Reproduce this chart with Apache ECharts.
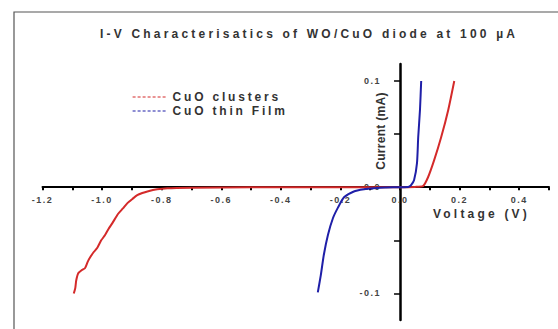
<!DOCTYPE html>
<html>
<head>
<meta charset="utf-8">
<script src="https://cdn.jsdelivr.net/npm/echarts@6/dist/echarts.min.js"></script>
<style>
  html, body { margin: 0; padding: 0; background: #fff; }
  #chart { width: 558px; height: 329px; }
</style>
</head>
<body>
<div id="chart"></div>
<script>
// I-V 曲线数据 (V, mA)
var clusterV = [-1.095, -1.090, -1.087, -1.080, -1.068, -1.057, -1.048, -1.040, -1.028, -1.016, -1.003, -0.990, -0.978, -0.966, -0.946, -0.930, -0.915, -0.898, -0.882, -0.865, -0.848, -0.815, -0.781, -0.70, -0.50, -0.30, -0.10, 0.0, 0.05, 0.077, 0.094, 0.114, 0.138, 0.162, 0.182];
var clusterI = [-0.100, -0.095, -0.088, -0.081, -0.078, -0.076, -0.070, -0.066, -0.061, -0.057, -0.050, -0.045, -0.039, -0.034, -0.025, -0.020, -0.015, -0.011, -0.0075, -0.0055, -0.004, -0.002, -0.001, -0.0005, 0, 0, 0, 0, 0.0003, 0.001, 0.0094, 0.025, 0.047, 0.073, 0.100];
var filmV = [-0.276, -0.266, -0.256, -0.242, -0.225, -0.208, -0.188, -0.155, -0.121, -0.088, -0.05, 0, 0.03, 0.037, 0.047, 0.057, 0.061, 0.067, 0.071];
var filmI = [-0.099, -0.083, -0.064, -0.045, -0.029, -0.019, -0.0095, -0.004, -0.002, -0.001, -0.0003, 0, 0.0005, 0.002, 0.0066, 0.023, 0.047, 0.073, 0.100];
var xTickValues = [-1.2, -1.1, -1.0, -0.9, -0.8, -0.7, -0.6, -0.5, -0.4, -0.3, -0.2, -0.1, 0, 0.1, 0.2, 0.3, 0.4, 0.5];
var xLabelValues = [-1.2, -1.0, -0.8, -0.6, -0.4, -0.2, 0, 0.2, 0.4];
var yTickValues = [-0.1, -0.05, 0, 0.05, 0.1];
var yLabelValues = [-0.1, 0, 0.1];

function pairs(xs, ys) {
    var out = [];
    for (var i = 0; i < xs.length; i++) {
        out.push([xs[i], ys[i]]);
    }
    return out;
}

var font = 'Liberation Sans, Arial, sans-serif';
var gridLeft = 42.5, gridRight = 9, gridTop = 64, gridBottom = 9;
var myChart = echarts.init(document.getElementById('chart'), null, { renderer: 'svg' });

var option = {
    animation: false,
    backgroundColor: '#fff',
    title: {
        text: 'I-V Characterisatics of WO/CuO diode at 100 µA',
        left: 100,
        top: 28,
        padding: 0,
        textStyle: { fontFamily: font, fontSize: 12, fontWeight: 'bold', color: '#333' }
    },
    legend: {
        orient: 'vertical',
        left: 132,
        top: 91,
        padding: 0,
        itemGap: 2,
        itemWidth: 35,
        itemHeight: 11,
        lineStyle: { type: [3, 2], width: 1.2 },
        itemStyle: { opacity: 0 },
        textStyle: { fontFamily: font, fontSize: 12, fontWeight: 'bold', color: '#333' },
        data: ['CuO clusters', 'CuO thin Film']
    },
    grid: { left: gridLeft, right: gridRight, top: gridTop, bottom: gridBottom, outerBoundsMode: 'none' },
    xAxis: {
        type: 'value',
        min: -1.2,
        max: 0.5,
        position: 'bottom',
        name: 'Voltage (V)',
        nameLocation: 'end',
        nameGap: -116,
        nameTextStyle: {
            fontFamily: font, fontSize: 12, fontWeight: 'bold', color: '#333',
            verticalAlign: 'top', padding: [21, 0, 0, 0]
        },
        axisLine: { onZero: false, lineStyle: { color: '#000', width: 2 } },
        axisTick: { customValues: xTickValues, length: 3, lineStyle: { color: '#000', width: 2 } },
        axisLabel: {
            customValues: xLabelValues,
            margin: 8,
            fontFamily: font, fontSize: 9, fontWeight: 'bold', color: '#444',
            formatter: function (v) { return v.toFixed(1); }
        },
        splitLine: { show: false }
    },
    yAxis: {
        type: 'value',
        min: -0.125,
        max: 0.116,
        position: 'left',
        axisLine: { onZero: false, lineStyle: { color: '#000', width: 2.5 } },
        axisTick: { customValues: yTickValues, length: 6, lineStyle: { color: '#000', width: 1.5 } },
        axisLabel: {
            customValues: yLabelValues,
            margin: 19,
            fontFamily: font, fontSize: 9, fontWeight: 'bold', color: '#444',
            formatter: function (v) { return v.toFixed(1); }
        },
        splitLine: { show: false }
    },
    graphic: [
        {
            type: 'rect',
            shape: { x: 14, y: 12, width: 600, height: 400 },
            style: { fill: 'none', stroke: '#555', lineWidth: 1.2 },
            silent: true,
            z: -1
        },
        {
            type: 'text',
            x: 381,
            y: 131,
            rotation: Math.PI / 2,
            style: {
                text: 'Current (mA)',
                fontFamily: font, fontSize: 12, fontWeight: 'bold', fill: '#333',
                align: 'center', verticalAlign: 'middle'
            }
        }
    ],
    series: [
        {
            name: 'CuO clusters',
            type: 'line',
            symbol: 'none',
            smooth: 0.2,
            lineStyle: { color: '#d42a2a', width: 2 },
            itemStyle: { color: '#d42a2a' },
            data: pairs(clusterV, clusterI)
        },
        {
            name: 'CuO thin Film',
            type: 'line',
            symbol: 'none',
            smooth: 0.2,
            lineStyle: { color: '#1f1fa8', width: 2 },
            itemStyle: { color: '#1f1fa8' },
            data: pairs(filmV, filmI)
        }
    ]
};
myChart.setOption(option);

// 坐标轴移到零点 (轴线、刻度和标签一起)
function moveAxesToZero() {
    var zero = myChart.convertToPixel({ gridIndex: 0 }, [0, 0]);
    myChart.setOption({
        xAxis: { offset: -((329 - gridBottom) - zero[1]) },
        yAxis: { offset: -(zero[0] - gridLeft) }
    });
}
moveAxesToZero();
moveAxesToZero();

// 字间距 (SVG 文本)
function spaceText() {
    var texts = document.querySelectorAll('#chart svg text');
    for (var i = 0; i < texts.length; i++) {
        var t = texts[i].textContent;
        if (t.indexOf('Current') === 0) {
            texts[i].style.letterSpacing = '0.3px';
        } else if (/^-?[0-9.]+$/.test(t)) {
            texts[i].style.letterSpacing = '1.5px';
        } else if (t.indexOf('CuO') === 0) {
            texts[i].style.letterSpacing = '2.8px';
        } else {
            texts[i].style.letterSpacing = '3.2px';
        }
    }
}
myChart.on('finished', spaceText);
spaceText();
</script>
</body>
</html>
